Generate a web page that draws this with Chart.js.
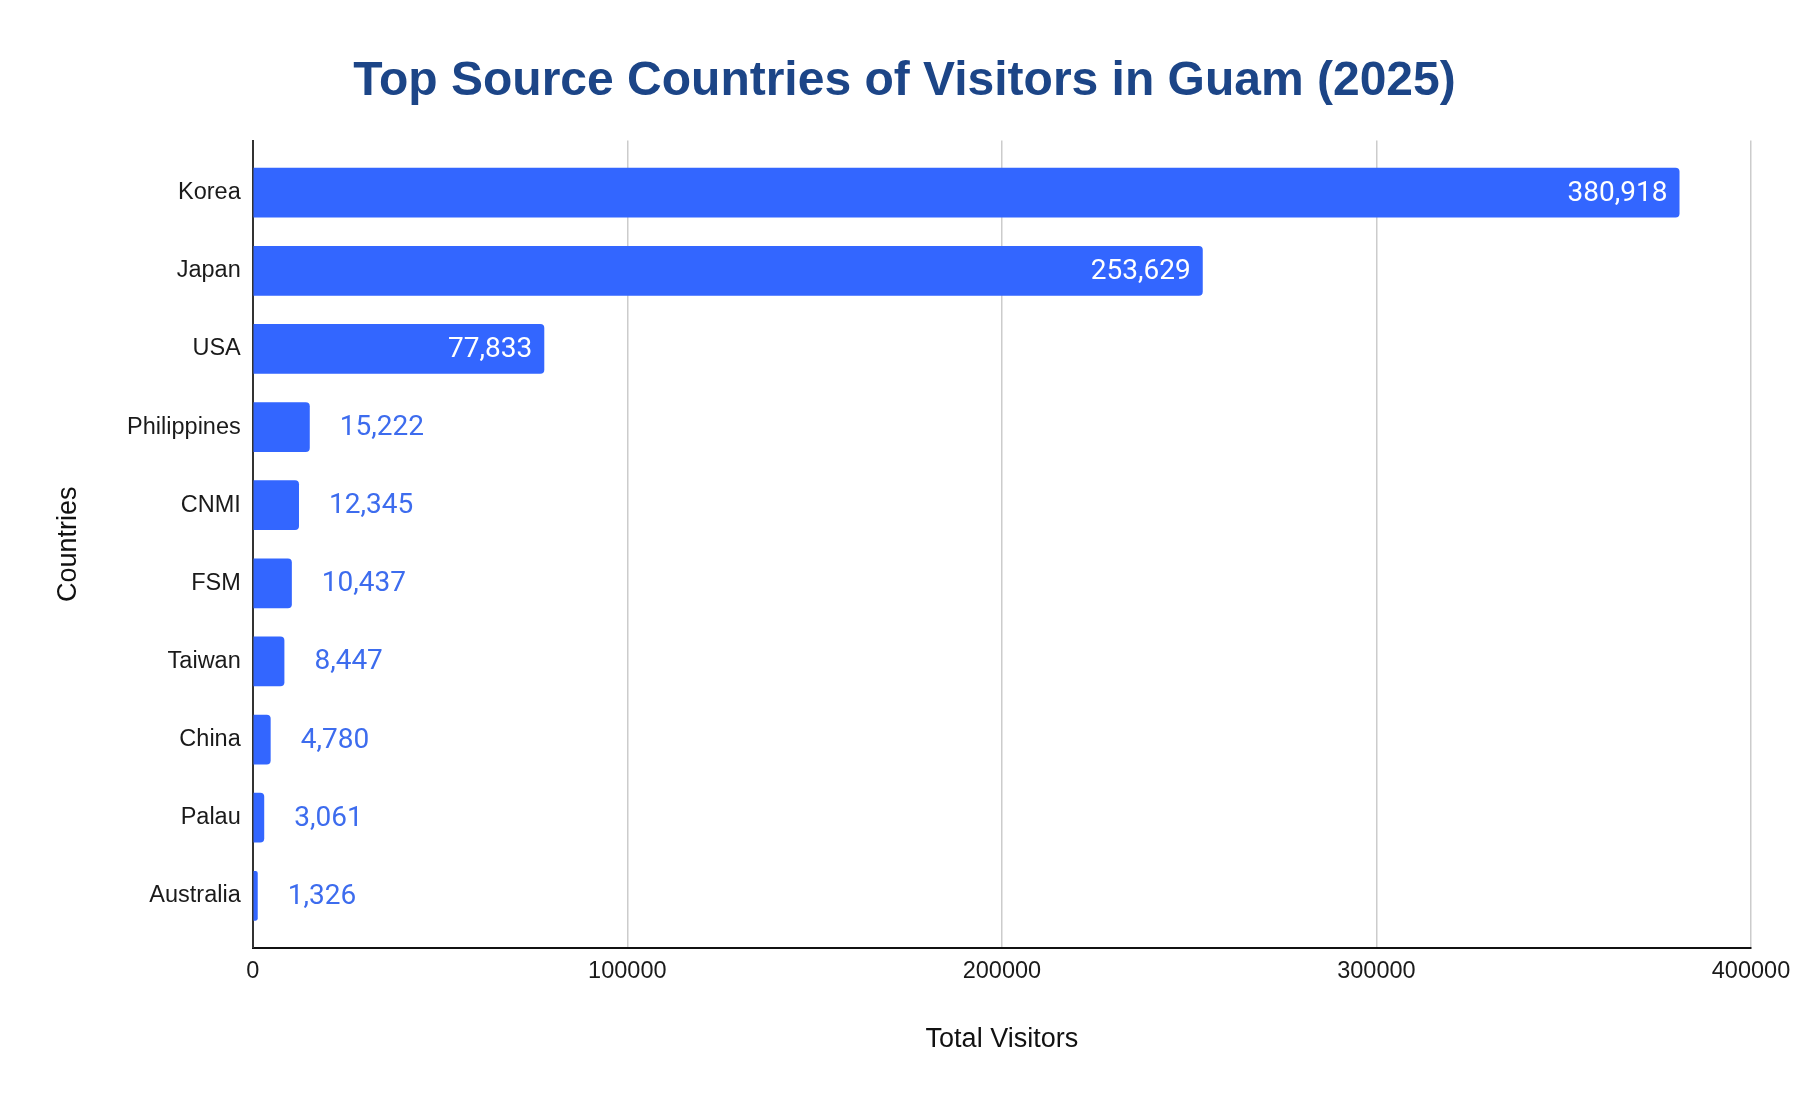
<!DOCTYPE html>
<html>
<head>
<meta charset="utf-8">
<script src="https://cdn.jsdelivr.net/npm/chart.js@4/dist/chart.umd.min.js"></script>
<style>
  html, body { margin: 0; padding: 0; background: #ffffff; }
  #wrap { width: 1806px; height: 1108px; }
</style>
</head>
<body>
<div id="wrap"><canvas id="c" width="1806" height="1108"></canvas></div>
<script>
const categories = ["Korea", "Japan", "USA", "Philippines", "CNMI", "FSM", "Taiwan", "China", "Palau", "Australia"];
const visitors = [380918, 253629, 77833, 15222, 12345, 10437, 8447, 4780, 3061, 1326];
const xTicks = [0, 100000, 200000, 300000, 400000];

const points = categories.map((c, i) => ({ x: visitors[i], y: i }));

const valueLabels = {
  id: 'valueLabels',
  afterDatasetsDraw(chart) {
    const ctx = chart.ctx;
    const meta = chart.getDatasetMeta(0);
    ctx.save();
    ctx.font = '28px Roboto';
    ctx.textBaseline = 'middle';
    meta.data.forEach((bar, i) => {
      const text = visitors[i].toLocaleString('en-US');
      const w = ctx.measureText(text).width;
      const barW = bar.x - bar.base;
      if (w + 24 < barW) {
        ctx.fillStyle = '#ffffff';
        ctx.textAlign = 'right';
        ctx.fillText(text, bar.x - 12, bar.y + 1);
      } else {
        ctx.fillStyle = '#3d6cee';
        ctx.textAlign = 'left';
        ctx.fillText(text, bar.x + 30, bar.y + 1);
      }
    });
    ctx.restore();
  }
};

new Chart(document.getElementById('c'), {
  type: 'bar',
  data: {
    datasets: [{
      label: 'Total Visitors',
      data: points,
      backgroundColor: '#3366ff',
      borderRadius: 4,
      borderSkipped: 'start',
      categoryPercentage: 1.0,
      barPercentage: 0.637
    }]
  },
  options: {
    indexAxis: 'y',
    responsive: false,
    animation: false,
    devicePixelRatio: 1,
    layout: { padding: { left: 58, right: 55, top: 0, bottom: 52.5 } },
    plugins: {
      legend: { display: false },
      tooltip: { enabled: false },
      title: {
        display: true,
        text: 'Top Source Countries of Visitors in Guam (2025)',
        color: '#1c4587',
        font: { family: 'Liberation Sans', size: 48, weight: 'bold', lineHeight: 1.2 },
        padding: { top: 53, bottom: 30 }
      }
    },
    scales: {
      x: {
        type: 'linear',
        min: xTicks[0],
        max: xTicks[xTicks.length - 1],
        afterBuildTicks(scale) { scale.ticks = xTicks.map(v => ({ value: v })); },
        grid: { color: '#cccccc', lineWidth: 1.5, drawTicks: false },
        border: { display: true, color: '#111111', width: 2 },
        ticks: {
          color: '#1a1a1a',
          padding: 10,
          font: { family: 'Liberation Sans', size: 23.5 },
          callback: v => String(v)
        },
        title: {
          display: true,
          text: 'Total Visitors',
          color: '#111111',
          font: { family: 'Liberation Sans', size: 27, lineHeight: 1.2 },
          padding: { top: 27, bottom: 0 }
        }
      },
      y: {
        type: 'linear',
        reverse: true,
        offset: false,
        min: -0.6667,
        max: categories.length - 1 + 0.6667,
        grid: { display: false, drawTicks: false, offset: false },
        border: { display: true, color: '#333333', width: 2 },
        ticks: {
          stepSize: 1,
          includeBounds: false,
          color: '#1a1a1a',
          padding: 12,
          font: { family: 'Liberation Sans', size: 23.5 },
          callback: v => (Number.isInteger(v) && categories[v] !== undefined) ? categories[v] : ''
        },
        title: {
          display: true,
          text: 'Countries',
          color: '#111111',
          font: { family: 'Liberation Sans', size: 27, lineHeight: 0.6 },
          padding: { top: 2, bottom: 38.9 }
        }
      }
    }
  },
  plugins: [valueLabels]
});
</script>
</body>
</html>
